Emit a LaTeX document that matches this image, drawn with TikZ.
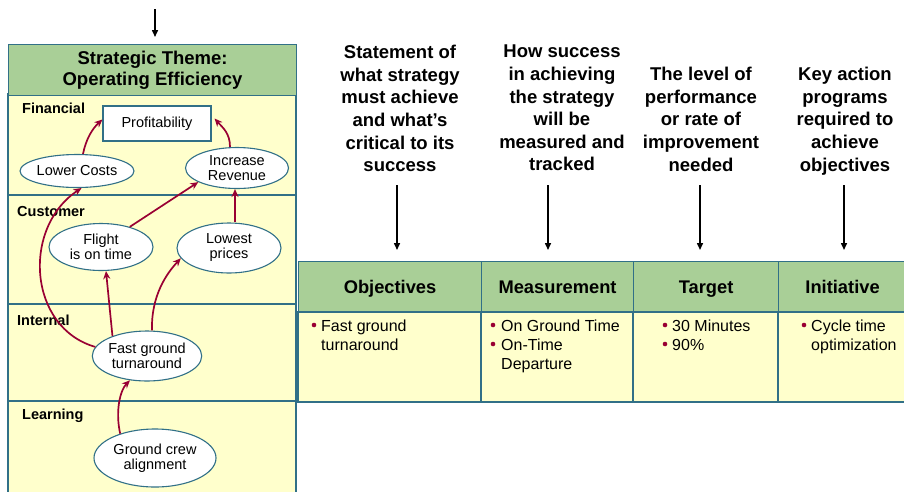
\documentclass[tikz,border=0pt]{standalone}
\usepackage{fontspec}
\setmainfont{Liberation Sans}
\usetikzlibrary{arrows.meta,shapes.geometric,calc}
\definecolor{bord}{RGB}{49,112,135}
\definecolor{hgreen}{RGB}{169,207,151}
\definecolor{lyellow}{RGB}{255,255,204}
\definecolor{dred}{RGB}{153,0,51}
\begin{document}
\begin{tikzpicture}[x=1pt,y=-1pt,
  band/.style={draw=bord,line width=1.1pt,fill=lyellow},
  greenbox/.style={draw=bord,line width=1.1pt,fill=hgreen,inner sep=0pt,align=center},
  hdrfont/.style={font=\bfseries\fontsize{18.5}{20.5}\selectfont},
  thead/.style={greenbox,minimum height=51pt,anchor=north west,text height=13pt,text depth=1pt,
     font=\bfseries\fontsize{18.3}{20}\selectfont},
  ell/.style={ellipse,draw=bord,line width=1.1pt,fill=white,inner sep=0pt,align=center,font=\fontsize{14.5}{15}\selectfont},
  lbl/.style={anchor=west,inner sep=0pt,font=\bfseries\fontsize{14.5}{15}\selectfont},
  desc/.style={anchor=north,inner sep=0pt,align=center,font=\bfseries\fontsize{18.5}{22.6}\selectfont},
  btext/.style={anchor=north west,inner sep=0pt,align=left,font=\fontsize{16}{19}\selectfont},
  rarr/.style={draw=dred,line width=1.7pt,-{Stealth[length=8pt,width=7pt]}},
  blk/.style={draw=black,line width=1.5pt,-{Triangle[length=7pt,width=6pt]}},
  bul/.style={fill=dred}
]
\useasboundingbox (0,0) rectangle (904,491);

% ---------- left panel ----------
\path[band] (8,94) rectangle (296,195);
\path[band] (8,195) rectangle (296,304);
\path[band] (8,304) rectangle (296,401);
\path[band] (8,401) rectangle (296,500);
\node[greenbox,hdrfont,minimum width=288pt,minimum height=51pt,anchor=north west] (hdr) at (8,44)
  {Strategic Theme:\\Operating Efficiency};

\node[lbl] (lfin) at (22,108) {Financial};
\node[lbl] (lcus) at (17,212) {Customer};
\node[lbl] (lint) at (17,320) {Internal};
\node[lbl] (llea) at (22,416) {Learning};

\node[draw=bord,line width=1.1pt,fill=white,minimum width=108pt,minimum height=35pt,inner sep=0pt,
      font=\fontsize{14.5}{15}\selectfont] (prof) at (157,123.5) {Profitability};
\node[ell,minimum width=104pt,minimum height=33pt] (lc) at (77,171) {Lower Costs};
\node[ell,minimum width=103pt,minimum height=41pt] (ir) at (237,168) {Increase\\Revenue};
\node[ell,minimum width=104pt,minimum height=47pt] (fl) at (101,247) {Flight\\is on time};
\node[ell,minimum width=104pt,minimum height=50pt] (lp) at (229,248) {Lowest\\prices};
\node[ell,minimum width=104pt,minimum height=50pt] (fg) at (147,356) {Fast ground\\turnaround};
\node[ell,minimum width=122pt,minimum height=58pt] (gc) at (155,458) {Ground crew\\alignment};

% red arrows
\draw[rarr] ([xshift=6pt]lc.north) .. controls +(3,-15) and +(-10,9) .. ([yshift=4pt]prof.west);
\draw[rarr] ([xshift=-7pt]ir.north) .. controls +(0,-14) and +(8,9) .. ([xshift=3pt,yshift=5pt]prof.east);
\draw[rarr] (fl.35) -- (ir.200);
\draw[rarr] ([xshift=6pt]lp.north) -- ([xshift=6pt]lp.north |- ir.south);
\draw[rarr] (fg.150) -- ([xshift=5pt]fl.south);
\draw[rarr] ([xshift=5pt]fg.north) .. controls +(-1,-35) and +(-14,15) .. (lp.192);
\draw[rarr] (fg.170) .. controls +(-67,-19) and +(-60,40) .. (lc.285);
\draw[rarr] (gc.145) .. controls +(-5,-22) and +(-10,10) .. (fg.235);

% top arrow
\coordinate (top0) at (155,9);
\draw[blk] (top0) -- ($(top0 |- hdr.north)+(0,-7)$);

% ---------- right table ----------
\node[thead,minimum width=183pt] (objh) at (298,261) {Objectives};
\node[thead,minimum width=152pt] (meah) at (481,261) {Measurement};
\node[thead,minimum width=145pt] (tarh) at (633,261) {Target};
\node[thead,minimum width=128pt] (inih) at (778,261) {Initiative};
\path[band] (298,312) rectangle (481,402);
\path[band] (481,312) rectangle (633,402);
\path[band] (633,312) rectangle (778,402);
\path[band] (778,312) rectangle (910,402);

\fill[bul] (314,325) circle (2.3);
\node[btext] (objt) at (321,320) {Fast ground\\turnaround};
\fill[bul] (493,325) circle (2.3);
\fill[bul] (493,344) circle (2.3);
\node[btext] (meat) at (501,320) {On Ground Time\\On-Time\\Departure};
\fill[bul] (665,325) circle (2.3);
\fill[bul] (665,344) circle (2.3);
\node[btext] (tart) at (672,320) {30 Minutes\\90\%};
\fill[bul] (804,325) circle (2.3);
\node[btext] (init) at (811,320) {Cycle time\\optimization};

% descriptions
\node[desc] (d1) at (400,45) {Statement of\\what strategy\\must achieve\\and what’s\\critical to its\\success};
\node[desc] (d2) at (562,45) {How success\\in achieving\\the strategy\\will be\\measured and\\tracked};
\node[desc] (d3) at (701,67) {The level of\\performance\\or rate of\\improvement\\needed};
\node[desc] (d4) at (845,67) {Key action\\programs\\required to\\achieve\\objectives};

\coordinate (t1) at (397,185);
\coordinate (t2) at (548,185);
\coordinate (t3) at (700,185);
\coordinate (t4) at (844,185);
\draw[blk] (t1) -- ($(t1 |- objh.north)+(0,-11)$);
\draw[blk] (t2) -- ($(t2 |- meah.north)+(0,-11)$);
\draw[blk] (t3) -- ($(t3 |- tarh.north)+(0,-11)$);
\draw[blk] (t4) -- ($(t4 |- inih.north)+(0,-11)$);
\end{tikzpicture}
\end{document}
